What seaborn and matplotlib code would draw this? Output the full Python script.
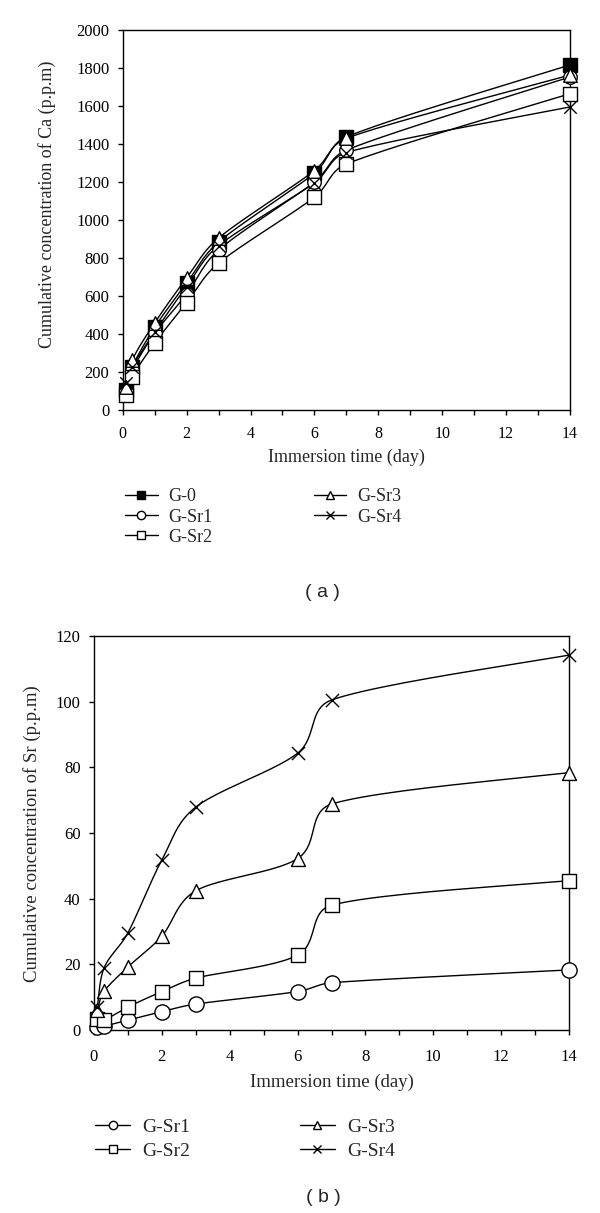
import numpy as np
import pandas as pd
import matplotlib
matplotlib.use("Agg")
import matplotlib.pyplot as plt
from matplotlib.lines import Line2D
from matplotlib.ticker import MultipleLocator
import seaborn as sns

# 数据
days = [0.1, 0.3, 1, 2, 3, 6, 7, 14]

ca_names = ["G-0", "G-Sr1", "G-Sr2", "G-Sr3", "G-Sr4"]
ca_g0 = [105, 228, 435, 668, 884, 1247, 1437, 1816]
ca_sr1 = [96, 210, 403, 610, 842, 1200, 1368, 1753]
ca_sr2 = [80, 175, 352, 565, 773, 1120, 1295, 1665]
ca_sr3 = [120, 263, 458, 695, 905, 1260, 1430, 1763]
ca_sr4 = [140, 228, 410, 650, 865, 1195, 1355, 1595]

sr_names = ["G-Sr1", "G-Sr2", "G-Sr3", "G-Sr4"]
sr_sr1 = [1.0, 1.2, 3.0, 5.6, 7.9, 11.7, 14.4, 18.3]
sr_sr2 = [3.2, 3.0, 7.0, 11.7, 15.8, 22.8, 38.0, 45.5]
sr_sr3 = [6.0, 11.8, 19.2, 28.6, 42.4, 52.2, 68.8, 78.4]
sr_sr4 = [7.1, 19.0, 29.6, 51.8, 67.9, 84.3, 100.5, 114.2]

markers = {"G-0": "s", "G-Sr1": "o", "G-Sr2": "s", "G-Sr3": "^", "G-Sr4": "x"}
faces = {"G-0": "black", "G-Sr1": "white", "G-Sr2": "white", "G-Sr3": "white", "G-Sr4": "black"}


def smooth(x, y, sx, sy, n=25):
    # Excel 风格的平滑曲线 (Bezier, 在像素空间计算, 控制点长度受限)
    p = np.column_stack([np.asarray(x, float) * sx, np.asarray(y, float) * sy])
    out = []
    for i in range(len(p) - 1):
        p0 = p[i - 1] if i > 0 else p[i]
        p1, p2 = p[i], p[i + 1]
        p3 = p[i + 2] if i + 2 < len(p) else p[i + 1]
        seg_len = np.hypot(*(p2 - p1))
        d1 = (p2 - p0) / 6
        d2 = (p3 - p1) / 6
        lim = 0.4 * seg_len
        if np.hypot(*d1) > lim:
            d1 = d1 / np.hypot(*d1) * lim
        if np.hypot(*d2) > lim:
            d2 = d2 / np.hypot(*d2) * lim
        c1 = p1 + d1
        c2 = p2 - d2
        t = np.linspace(0, 1, n)[:, None]
        seg = (1 - t) ** 3 * p1 + 3 * (1 - t) ** 2 * t * c1 + 3 * (1 - t) * t ** 2 * c2 + t ** 3 * p2
        out.append(seg if i == 0 else seg[1:])
    out = np.vstack(out)
    return out[:, 0] / sx, out[:, 1] / sy


def draw_panel(ax, names, series, sx, sy, sizes):
    curves = []
    for name, vals in zip(names, series):
        xs, ys = smooth(days, vals, sx, sy)
        curves.append(pd.DataFrame({"time": xs, "conc": ys, "sample": name}))
    curve_df = pd.concat(curves, ignore_index=True)
    sns.lineplot(data=curve_df, x="time", y="conc", units="sample", estimator=None,
                 sort=False, color="black", lw=1.0, ax=ax, legend=False)
    for name, vals in zip(names, series):
        m = markers[name]
        if m == "x":
            sns.scatterplot(x=days, y=vals, marker="x", color="black", s=sizes[name],
                            linewidth=1.0, ax=ax, zorder=3, clip_on=False)
        else:
            sns.scatterplot(x=days, y=vals, marker=m, facecolor=faces[name], edgecolor="black",
                            s=sizes[name], linewidth=1.0, ax=ax, zorder=3, clip_on=False)


sns.set_theme(style="ticks")
plt.rcParams["font.family"] = ["Liberation Serif", "DejaVu Serif"]
plt.rcParams["axes.linewidth"] = 1.0

fig = plt.figure(figsize=(6.0, 12.13), dpi=100)
ax1 = fig.add_axes([122.7 / 600, 1 - 410 / 1213, 447.3 / 600, 380 / 1213])
ax2 = fig.add_axes([94 / 600, 1 - 1030 / 1213, 475 / 600, 394 / 1213])

size_a = {"G-0": 95, "G-Sr1": 95, "G-Sr2": 95, "G-Sr3": 95, "G-Sr4": 80}
draw_panel(ax1, ca_names, [ca_g0, ca_sr1, ca_sr2, ca_sr3, ca_sr4], 447.3 / 14, 380 / 2000, size_a)
size_b = {"G-Sr1": 120, "G-Sr2": 95, "G-Sr3": 100, "G-Sr4": 90}
draw_panel(ax2, sr_names, [sr_sr1, sr_sr2, sr_sr3, sr_sr4], 475 / 14, 394 / 120, size_b)

for ax, ymax, ystep in [(ax1, 2000, 200), (ax2, 120, 20)]:
    ax.set_xlim(0, 14)
    ax.set_ylim(0, ymax)
    ax.xaxis.set_major_locator(MultipleLocator(2))
    ax.xaxis.set_minor_locator(MultipleLocator(1))
    ax.yaxis.set_major_locator(MultipleLocator(ystep))
    ax.tick_params(axis="both", which="both", direction="out", length=3.6, width=1.0,
                   colors="black", top=False, right=False)
    ax.tick_params(axis="y", labelsize=12, pad=6)
    for sp in ax.spines.values():
        sp.set_visible(True)
        sp.set_color("black")
        sp.set_linewidth(1.0)

ax1.tick_params(axis="x", labelsize=11.5, pad=8)
ax2.tick_params(axis="x", labelsize=12, pad=10)

ax1.set_xlabel("Immersion time (day)", fontsize=13)
ax1.set_ylabel("Cumulative concentration of Ca (p.p.m)", fontsize=13)
ax2.set_xlabel("Immersion time (day)", fontsize=13.5)
ax2.set_ylabel("Cumulative concentration of Sr (p.p.m)", fontsize=13.5)
for lab in [ax1.xaxis.label, ax1.yaxis.label, ax2.xaxis.label, ax2.yaxis.label]:
    lab.set_va("center")
ax1.xaxis.set_label_coords(0.5, (410 - 457) / 380)
ax1.yaxis.set_label_coords((47 - 122.7) / 447.3, (410 - 204) / 380)
ax2.xaxis.set_label_coords(0.5, (1030 - 1082) / 394)
ax2.yaxis.set_label_coords((32 - 94) / 475, (1030 - 834) / 394)


def handles(names):
    hs = []
    for name in names:
        m = markers[name]
        hs.append(Line2D([0], [0], color="black", lw=1.0, marker=m, markersize=6,
                         markerfacecolor=faces[name], markeredgecolor="black",
                         markeredgewidth=1.0))
    return hs


fig.legend(handles(ca_names), ca_names, ncol=2, loc="center left",
           bbox_to_anchor=(125 / 600, 1 - 517 / 1213), frameon=False, fontsize=13,
           borderpad=0, borderaxespad=0, labelspacing=0.17, handlelength=1.8,
           handletextpad=0.6, columnspacing=5.6)
fig.legend(handles(sr_names), sr_names, ncol=2, loc="center left",
           bbox_to_anchor=(95 / 600, 1 - 1139 / 1213), frameon=False, fontsize=14,
           borderpad=0, borderaxespad=0, labelspacing=0.35, handlelength=1.8,
           handletextpad=0.65, columnspacing=5.6)

fig.text(322 / 600, 1 - 592 / 1213, "( a )", ha="center", va="center", fontsize=14,
         family=["Liberation Sans", "DejaVu Sans"])
fig.text(323 / 600, 1 - 1198 / 1213, "( b )", ha="center", va="center", fontsize=14,
         family=["Liberation Sans", "DejaVu Sans"])

fig.savefig("out.png", dpi=100)
